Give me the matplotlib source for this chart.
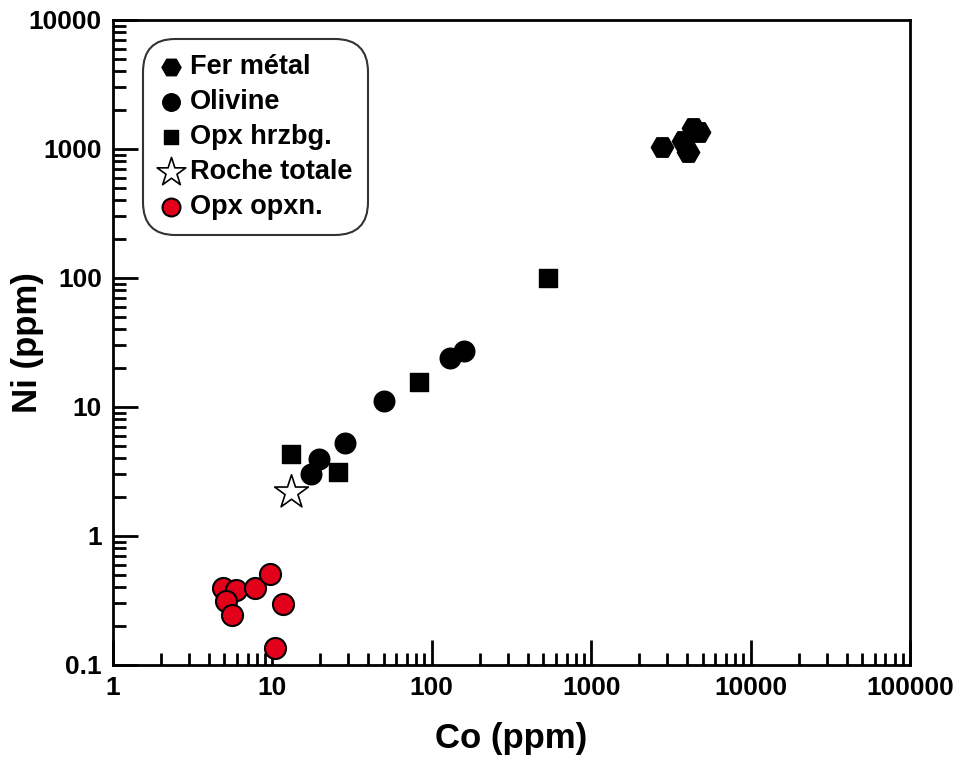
import matplotlib
matplotlib.use("Agg")
import matplotlib.pyplot as plt
import matplotlib.ticker as mticker

plt.rcParams["font.family"] = ["Liberation Sans", "DejaVu Sans"]
plt.rcParams["font.weight"] = "bold"

# Co / Ni concentrations (ppm)
fer_co = [2780, 3770, 4050, 4350, 4750]
fer_ni = [1037, 1150, 950, 1455, 1355]

olivine_co = [17.5, 19.6, 28.5, 50.1, 130, 159]
olivine_ni = [3.03, 3.95, 5.26, 11.1, 24.0, 27.2]

opx_hrz_co = [13.1, 25.8, 83.2, 536]
opx_hrz_ni = [4.32, 3.13, 15.6, 100]

roche_co = [13.1]
roche_ni = [2.2]

opx_opx_co = [4.92, 5.91, 5.12, 5.55, 7.78, 9.66, 11.6, 10.4]
opx_opx_ni = [0.397, 0.381, 0.313, 0.244, 0.397, 0.507, 0.297, 0.136]

x_ticks = [1, 10, 100, 1000, 10000, 100000]
y_ticks = [0.1, 1, 10, 100, 1000, 10000]

fig = plt.figure(figsize=(9.55, 7.58), dpi=100)
ax = fig.add_axes([0.1183, 0.1227, 0.8346, 0.851])

ax.scatter(fer_co, fer_ni, marker="H", s=260, color="black", label="Fer métal", zorder=3)
ax.scatter(olivine_co, olivine_ni, marker="o", s=220, color="black", label="Olivine", zorder=3)
ax.scatter(opx_hrz_co, opx_hrz_ni, marker="s", s=150, color="black", label="Opx hrzbg.", zorder=3)
ax.scatter(roche_co, roche_ni, marker="*", s=650, facecolor="white", edgecolor="black",
           linewidth=1.2, label="Roche totale", zorder=3)
ax.scatter(opx_opx_co, opx_opx_ni, marker="o", s=230, facecolor="#e3001b", edgecolor="black",
           linewidth=1.5, label="Opx opxn.", zorder=4, clip_on=False)

ax.set_xscale("log")
ax.set_yscale("log")
ax.set_xlim(1, 100000)
ax.set_ylim(0.1, 10000)

ax.xaxis.set_major_locator(mticker.FixedLocator(x_ticks))
ax.yaxis.set_major_locator(mticker.FixedLocator(y_ticks))
ax.xaxis.set_major_formatter(mticker.FixedFormatter([f"{v:g}" for v in x_ticks]))
ax.yaxis.set_major_formatter(mticker.FixedFormatter([f"{v:g}" for v in y_ticks]))
ax.xaxis.set_minor_locator(mticker.LogLocator(base=10, subs=range(2, 10), numticks=20))
ax.yaxis.set_minor_locator(mticker.LogLocator(base=10, subs=range(2, 10), numticks=20))
ax.xaxis.set_minor_formatter(mticker.NullFormatter())
ax.yaxis.set_minor_formatter(mticker.NullFormatter())

ax.tick_params(which="major", direction="in", length=18, width=2, labelsize=19, pad=8)
ax.tick_params(which="minor", direction="in", length=9, width=2)
for sp in ax.spines.values():
    sp.set_linewidth(2)

ax.set_xlabel("Co (ppm)", fontsize=25, fontweight="bold")
ax.set_ylabel("Ni (ppm)", fontsize=25, fontweight="bold")
ax.xaxis.set_label_coords(0.5, -0.088)
ax.yaxis.set_label_coords(-0.087, 0.5)

leg = ax.legend(loc="upper left", bbox_to_anchor=(0.041, 0.966), fontsize=19.5,
                frameon=True, fancybox=True, handletextpad=0.2, labelspacing=0.33,
                borderpad=0.45, handlelength=1.0, borderaxespad=0, markerscale=0.85)
leg.get_frame().set_edgecolor("black")
leg.get_frame().set_linewidth(1.5)
leg.get_frame().set_boxstyle("round,pad=0.1,rounding_size=1.2")

fig.savefig("out.png", dpi=100)
